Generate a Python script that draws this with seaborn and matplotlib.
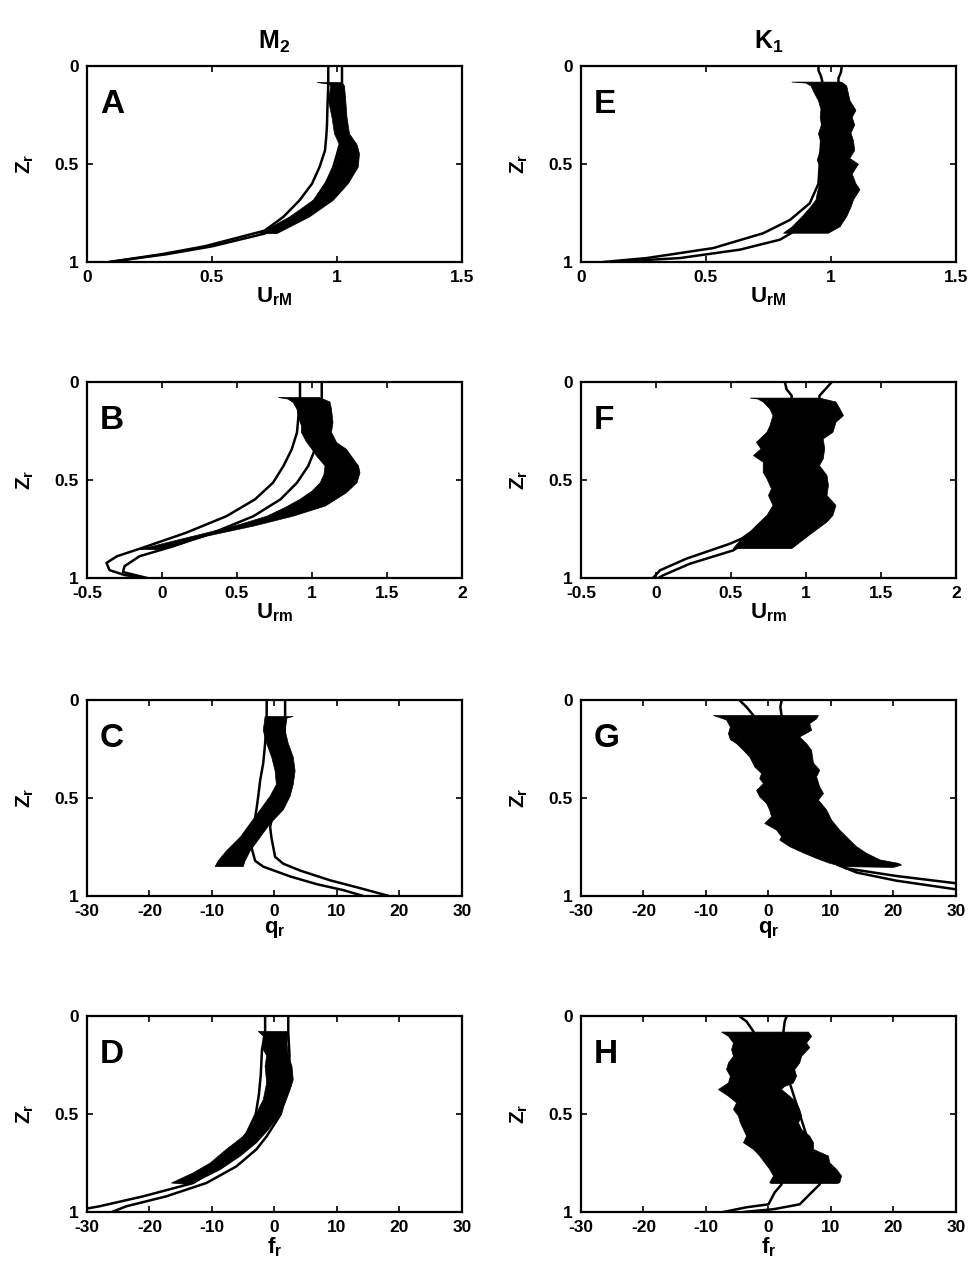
import numpy as np
import pandas as pd
import matplotlib
matplotlib.use("Agg")
import matplotlib.pyplot as plt
import seaborn as sns

# ---------------- data (z = relative depth, x = value) ----------------
# Panel A (M2, U_rM)
A_l1_z = [0, 0.1, 0.2, 0.3, 0.36, 0.43, 0.515, 0.6, 0.685, 0.77, 0.84, 0.92, 0.96, 1.0]
A_l1_x = [0.965, 0.965, 0.962, 0.96, 0.957, 0.952, 0.93, 0.9, 0.85, 0.785, 0.71, 0.47, 0.3, 0.09]
A_l2_z = [0, 0.1, 0.2, 0.3, 0.38, 0.45, 0.515, 0.6, 0.685, 0.77, 0.855, 0.92, 0.96, 1.0]
A_l2_x = [1.02, 1.02, 1.02, 1.02, 1.015, 1.0, 0.985, 0.955, 0.91, 0.83, 0.71, 0.5, 0.32, 0.09]
A_el_z = [0.082, 0.09, 0.1, 0.175, 0.26, 0.345, 0.4, 0.45, 0.515, 0.6, 0.685, 0.77, 0.855]
A_el_x = [0.92, 0.965, 0.975, 0.966, 0.98, 0.99, 1.01, 1.005, 0.99, 0.95, 0.905, 0.81, 0.69]
A_er_z = [0.082, 0.1, 0.175, 0.26, 0.345, 0.4, 0.447, 0.515, 0.6, 0.685, 0.77, 0.855]
A_er_x = [1.02, 1.03, 1.035, 1.04, 1.05, 1.08, 1.09, 1.085, 1.045, 0.985, 0.89, 0.76]

# Panel E (K1, U_rM)
E_l1_z = [0, 0.02, 0.05, 0.075, 0.3, 0.6, 0.7, 0.785, 0.853, 0.929, 0.98, 1.0]
E_l1_x = [0.95, 0.95, 0.96, 0.965, 0.965, 0.95, 0.915, 0.836, 0.729, 0.529, 0.263, 0.09]
E_l2_z = [0, 0.03, 0.06, 0.075, 0.3, 0.6, 0.75, 0.836, 0.886, 0.937, 0.98, 1.0]
E_l2_x = [1.043, 1.04, 1.03, 1.03, 1.03, 1.0, 0.93, 0.863, 0.796, 0.636, 0.396, 0.12]
E_el_z = [0.08, 0.085, 0.1, 0.14, 0.175, 0.22, 0.26, 0.3, 0.344, 0.39, 0.43, 0.48, 0.514,
          0.55, 0.6, 0.65, 0.683, 0.717, 0.768, 0.82, 0.853]
E_el_x = [0.843, 0.9, 0.92, 0.935, 0.95, 0.96, 0.957, 0.962, 0.95, 0.96, 0.957, 0.945, 0.957,
          0.95, 0.955, 0.945, 0.94, 0.92, 0.885, 0.845, 0.81]
E_er_z = [0.08, 0.1, 0.14, 0.175, 0.225, 0.26, 0.3, 0.34, 0.38, 0.43, 0.47, 0.5, 0.55, 0.6,
          0.63, 0.683, 0.72, 0.768, 0.82, 0.853]
E_er_x = [1.043, 1.063, 1.07, 1.076, 1.1, 1.085, 1.095, 1.08, 1.09, 1.095, 1.075, 1.11, 1.085,
          1.1, 1.116, 1.09, 1.08, 1.063, 1.036, 0.99]

# Panel B (M2, U_rm)
B_l1_z = [0, 0.085, 0.17, 0.256, 0.342, 0.427, 0.513, 0.598, 0.684, 0.769, 0.838, 0.889, 0.923, 0.96, 0.985, 1.0]
B_l1_x = [0.92, 0.92, 0.91, 0.9, 0.865, 0.81, 0.74, 0.62, 0.43, 0.16, -0.1, -0.3, -0.37, -0.35, -0.25, -0.12]
B_l2_z = [0, 0.085, 0.15, 0.342, 0.427, 0.513, 0.598, 0.684, 0.769, 0.838, 0.889, 0.94, 0.97, 1.0]
B_l2_x = [1.065, 1.065, 1.06, 1.02, 0.975, 0.9, 0.79, 0.61, 0.34, 0.075, -0.15, -0.25, -0.26, -0.1]
B_el_z = [0.077, 0.085, 0.103, 0.137, 0.18, 0.222, 0.256, 0.3, 0.342, 0.376, 0.427, 0.47, 0.513,
          0.556, 0.598, 0.64, 0.684, 0.726, 0.769, 0.82, 0.855]
B_el_x = [0.775, 0.84, 0.875, 0.9, 0.91, 0.93, 0.93, 0.96, 1.0, 1.03, 1.087, 1.08, 1.055,
          1.0, 0.92, 0.82, 0.7, 0.52, 0.3, 0.03, -0.15]
B_er_z = [0.077, 0.1, 0.137, 0.205, 0.256, 0.308, 0.342, 0.393, 0.427, 0.462, 0.513, 0.564,
          0.632, 0.684, 0.735, 0.786, 0.838, 0.855]
B_er_x = [1.05, 1.12, 1.13, 1.14, 1.13, 1.165, 1.23, 1.277, 1.31, 1.32, 1.3, 1.23,
          1.09, 0.875, 0.61, 0.3, 0.075, 0.0]

# Panel F (K1, U_rm)
F_l1_z = [0, 0.034, 0.068, 0.3, 0.5, 0.65, 0.72, 0.799, 0.825, 0.901, 0.961, 1.0]
F_l1_x = [0.86, 0.87, 0.905, 0.9, 0.9, 0.82, 0.72, 0.571, 0.493, 0.204, 0.027, -0.02]
F_l2_z = [0, 0.034, 0.068, 0.3, 0.5, 0.65, 0.75, 0.825, 0.859, 0.927, 0.986, 1.0]
F_l2_x = [1.17, 1.13, 1.09, 1.08, 1.08, 0.95, 0.76, 0.582, 0.515, 0.227, 0.049, 0.016]
F_el_z = [0.08, 0.085, 0.1, 0.136, 0.17, 0.221, 0.255, 0.306, 0.34, 0.374, 0.408, 0.46, 0.493,
          0.544, 0.578, 0.629, 0.68, 0.731, 0.765, 0.8, 0.85]
F_el_x = [0.627, 0.68, 0.715, 0.76, 0.78, 0.76, 0.74, 0.67, 0.7, 0.65, 0.715, 0.715, 0.74,
          0.77, 0.75, 0.78, 0.74, 0.67, 0.627, 0.57, 0.515]
F_er_z = [0.08, 0.1, 0.136, 0.17, 0.204, 0.255, 0.289, 0.34, 0.391, 0.425, 0.476, 0.527,
          0.578, 0.629, 0.68, 0.714, 0.765, 0.8, 0.85]
F_er_x = [1.09, 1.2, 1.227, 1.25, 1.2, 1.18, 1.115, 1.125, 1.115, 1.09, 1.14, 1.15,
          1.14, 1.2, 1.18, 1.14, 1.05, 0.99, 0.905]

# Panel C (M2, q_r)
C_l1_z = [0, 0.085, 0.22, 0.32, 0.41, 0.49, 0.56, 0.66, 0.75, 0.82, 0.85, 0.9, 0.94, 0.97, 1.0]
C_l1_x = [-1.25, -1.25, -1.5, -1.8, -2.3, -2.6, -2.9, -3.4, -3.7, -3.1, -1.8, 2.5, 6.8, 11, 14.2]
C_l2_z = [0, 0.085, 0.3, 0.5, 0.647, 0.7, 0.8, 0.835, 0.87, 0.92, 0.96, 1.0]
C_l2_x = [1.7, 1.7, 1.5, 0.3, -0.7, -0.5, 0.1, 1.4, 4.1, 8.9, 13.7, 18.3]
C_el_z = [0.082, 0.153, 0.22, 0.29, 0.36, 0.43, 0.49, 0.56, 0.63, 0.7, 0.77, 0.82, 0.85]
C_el_x = [-1.5, -1.8, -1.25, -0.45, 0.1, 0.3, -0.7, -2.3, -3.9, -5.5, -7.7, -9.0, -9.5]
C_er_z = [0.082, 0.09, 0.153, 0.22, 0.29, 0.36, 0.43, 0.49, 0.56, 0.63, 0.7, 0.77, 0.82, 0.85]
C_er_x = [3.0, 2.0, 1.7, 2.2, 3.0, 3.3, 3.0, 2.5, 1.4, -0.7, -2.3, -3.9, -4.7, -5.0]

# Panel G (K1, q_r)
G_l1_z = [0, 0.034, 0.077, 0.3, 0.6, 0.82, 0.859, 0.898, 0.935, 0.95]
G_l1_x = [-4.6, -3.5, -2.4, -1.0, 3.0, 10.0, 12.5, 20.5, 30.0, 34.0]
G_l2_z = [0, 0.034, 0.077, 0.3, 0.6, 0.84, 0.88, 0.922, 0.966, 0.98]
G_l2_x = [2.1, 1.9, 2.1, 4.0, 7.0, 11.0, 14.1, 20.5, 30.0, 34.0]
G_el_z = [0.077, 0.1, 0.136, 0.17, 0.2, 0.221, 0.255, 0.289, 0.32, 0.34, 0.374, 0.4, 0.425,
          0.46, 0.493, 0.527, 0.561, 0.595, 0.629, 0.663, 0.697, 0.714, 0.748, 0.78, 0.808, 0.833, 0.85]
G_el_x = [-8.8, -6.7, -6.1, -6.4, -6.1, -5.1, -4.0, -3.0, -2.5, -2.2, -1.1, -1.4, -0.8,
          -1.9, -1.4, -0.3, 0.2, 0.5, -0.6, 1.3, 2.1, 1.8, 3.4, 5.6, 7.7, 9.8, 12.0]
G_er_z = [0.077, 0.094, 0.119, 0.153, 0.187, 0.221, 0.255, 0.32, 0.357, 0.391, 0.442, 0.476,
          0.51, 0.56, 0.612, 0.663, 0.714, 0.748, 0.782, 0.816, 0.833, 0.842, 0.854]
G_er_x = [8.0, 7.7, 6.6, 6.9, 5.0, 6.1, 6.9, 7.2, 8.2, 7.7, 8.2, 8.8,
          8.0, 9.3, 10.1, 11.4, 13.0, 14.1, 15.7, 17.9, 20.8, 21.3, 20.0]

# Panel D (M2, f_r)
D_l1_z = [0, 0.077, 0.17, 0.3, 0.4, 0.5, 0.6, 0.7, 0.8, 0.852, 0.92, 0.971, 1.0]
D_l1_x = [-1.5, -1.5, -2.0, -2.2, -2.5, -3.0, -4.5, -7.0, -10.5, -13.0, -21.0, -28.0, -33.0]
D_l2_z = [0, 0.077, 0.2, 0.35, 0.5, 0.613, 0.68, 0.767, 0.852, 0.92, 0.971, 1.0]
D_l2_x = [2.2, 2.2, 2.4, 2.3, 1.0, -1.25, -2.9, -6.1, -10.9, -17.3, -23.7, -26.0]
D_el_z = [0.077, 0.1, 0.17, 0.2, 0.255, 0.34, 0.426, 0.477, 0.545, 0.613, 0.68, 0.75, 0.8, 0.852]
D_el_x = [-2.6, -1.8, -1.8, -1.25, -1.5, -1.25, -1.8, -2.6, -3.4, -5.0, -7.7, -10.3, -13.0, -16.5]
D_er_z = [0.077, 0.14, 0.2, 0.255, 0.324, 0.375, 0.443, 0.511, 0.58, 0.647, 0.715, 0.784, 0.835, 0.86]
D_er_x = [2.2, 2.0, 2.2, 2.8, 3.0, 2.5, 1.7, 0.6, -1.0, -2.9, -5.5, -8.7, -11.9, -13.5]

# Panel H (K1, f_r)
H_l1_z = [0, 0.026, 0.077, 0.3, 0.6, 0.859, 0.9, 0.961, 0.976, 1.0]
H_l1_x = [-4.6, -3.5, -2.4, -1.5, 0.0, 2.1, 1.0, 0.0, -3.5, -7.2]
H_l2_z = [0, 0.026, 0.077, 0.3, 0.6, 0.859, 0.884, 0.961, 0.986, 1.0]
H_l2_x = [2.9, 2.6, 2.4, 3.0, 6.0, 8.2, 7.4, 5.0, 0.8, -4.0]
H_el_z = [0.08, 0.102, 0.136, 0.17, 0.204, 0.238, 0.272, 0.306, 0.34, 0.374, 0.408, 0.442, 0.476,
          0.51, 0.544, 0.578, 0.612, 0.646, 0.68, 0.714, 0.748, 0.782, 0.816, 0.85, 0.855]
H_el_x = [-7.5, -6.4, -5.6, -5.9, -5.6, -6.4, -6.7, -6.1, -6.4, -8.0, -6.4, -5.1, -5.6,
          -4.8, -4.5, -4.0, -3.5, -4.0, -2.4, -1.4, -0.6, 0.2, 0.8, 0.2, 0.5]
H_er_z = [0.08, 0.102, 0.136, 0.16, 0.204, 0.238, 0.272, 0.306, 0.34, 0.36, 0.374, 0.408, 0.442,
          0.476, 0.51, 0.544, 0.578, 0.612, 0.646, 0.68, 0.714, 0.748, 0.782, 0.816, 0.85, 0.855]
H_er_x = [6.4, 6.9, 6.1, 6.6, 5.3, 5.0, 4.2, 4.5, 4.0, 2.5, 2.1, 3.4, 4.5,
          5.0, 5.3, 4.8, 5.3, 6.6, 7.2, 7.2, 9.6, 9.8, 10.9, 11.7, 11.4, 11.0]

# axis ticks / labels
U_ticks = [0, 0.5, 1, 1.5]
U_ticklabels = ["0", "0.5", "1", "1.5"]
Um_ticks = [-0.5, 0, 0.5, 1, 1.5, 2]
Um_ticklabels = ["-0.5", "0", "0.5", "1", "1.5", "2"]
qf_ticks = [-30, -20, -10, 0, 10, 20, 30]
qf_ticklabels = ["-30", "-20", "-10", "0", "10", "20", "30"]
z_ticks = [0, 0.5, 1]
z_ticklabels = ["0", "0.5", "1"]
col_titles = [r"$M_2$", r"$K_1$"]
row_xlabels = [r"$U_{rM}$", r"$U_{rm}$", r"$q_r$", r"$f_r$"]
panel_letters = [["A", "E"], ["B", "F"], ["C", "G"], ["D", "H"]]

# ---------------- style ----------------
sns.set_theme(style="ticks")
plt.rcParams.update({
    "font.family": ["Liberation Sans", "DejaVu Sans"],
    "font.weight": "bold",
    "axes.labelweight": "bold",
    "axes.titleweight": "bold",
    "text.color": "black",
    "axes.labelcolor": "black",
    "xtick.color": "black",
    "ytick.color": "black",
    "mathtext.fontset": "custom",
    "mathtext.rm": "Liberation Sans:bold",
    "mathtext.it": "Liberation Sans:bold",
    "mathtext.bf": "Liberation Sans:bold",
    "mathtext.sf": "Liberation Sans:bold",
    "mathtext.default": "bf",
    "axes.linewidth": 1.6,
    "axes.edgecolor": "black",
})

fig = plt.figure(figsize=(9.72, 12.68), dpi=100)

col_left = [0.0895, 0.5977]
row_bottom = [0.7934, 0.5442, 0.2934, 0.0442]
w, h = 0.3858, 0.1542

panel_data = {
    "A": (A_l1_z, A_l1_x, A_l2_z, A_l2_x, A_el_z, A_el_x, A_er_z, A_er_x),
    "E": (E_l1_z, E_l1_x, E_l2_z, E_l2_x, E_el_z, E_el_x, E_er_z, E_er_x),
    "B": (B_l1_z, B_l1_x, B_l2_z, B_l2_x, B_el_z, B_el_x, B_er_z, B_er_x),
    "F": (F_l1_z, F_l1_x, F_l2_z, F_l2_x, F_el_z, F_el_x, F_er_z, F_er_x),
    "C": (C_l1_z, C_l1_x, C_l2_z, C_l2_x, C_el_z, C_el_x, C_er_z, C_er_x),
    "G": (G_l1_z, G_l1_x, G_l2_z, G_l2_x, G_el_z, G_el_x, G_er_z, G_er_x),
    "D": (D_l1_z, D_l1_x, D_l2_z, D_l2_x, D_el_z, D_el_x, D_er_z, D_er_x),
    "H": (H_l1_z, H_l1_x, H_l2_z, H_l2_x, H_el_z, H_el_x, H_er_z, H_er_x),
}
row_ticks = [(U_ticks, U_ticklabels, (0, 1.5)),
             (Um_ticks, Um_ticklabels, (-0.5, 2)),
             (qf_ticks, qf_ticklabels, (-30, 30)),
             (qf_ticks, qf_ticklabels, (-30, 30))]

for r in range(4):
    for c in range(2):
        ax = fig.add_axes([col_left[c], row_bottom[r], w, h])
        letter = panel_letters[r][c]
        l1z, l1x, l2z, l2x, elz, elx, erz, erx = panel_data[letter]
        for zz, xx in ((l1z, l1x), (l2z, l2x)):
            df = pd.DataFrame({"x": xx, "z": zz})
            sns.lineplot(data=df, x="x", y="z", sort=False, estimator=None,
                         color="black", linewidth=1.8, ax=ax)
        poly_x = np.concatenate([elx, erx[::-1]])
        poly_z = np.concatenate([elz, erz[::-1]])
        ax.fill(poly_x, poly_z, color="black", linewidth=0.5, edgecolor="black", zorder=3)

        ticks, labels, lim = row_ticks[r]
        ax.set_xlim(*lim)
        ax.set_ylim(1, 0)
        ax.set_xticks(ticks, labels)
        ax.set_yticks(z_ticks, z_ticklabels)
        ax.tick_params(direction="in", top=True, right=True, length=4, width=1.2,
                       labelsize=12.5, pad=6, colors="black")
        for lab in ax.get_xticklabels() + ax.get_yticklabels():
            lab.set_fontweight("bold")
        ax.set_xlabel(row_xlabels[r], fontsize=16, labelpad=0)
        ax.set_ylabel(r"$Z_r$", fontsize=15)
        ax.yaxis.set_label_coords(-0.135, 0.5)
        ax.text(0.035, 0.885, letter, transform=ax.transAxes, fontsize=24,
                fontweight="bold", ha="left", va="top")
        if r == 0:
            ax.set_title(col_titles[c], fontsize=18, pad=13)
        for s in ax.spines.values():
            s.set_visible(True)
            s.set_linewidth(1.6)

fig.savefig("out.png", dpi=100, facecolor="white")
